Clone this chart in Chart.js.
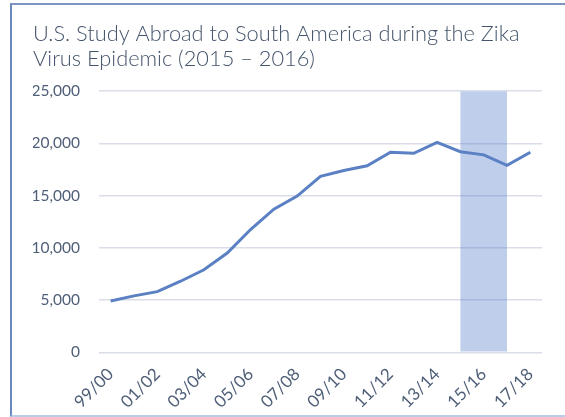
<!DOCTYPE html>
<html>
<head>
<meta charset="utf-8">
<script src="https://cdn.jsdelivr.net/npm/chart.js@4.4.1/dist/chart.umd.min.js"></script>
<style>
  html, body { margin: 0; padding: 0; background: #fff; }
  #frame {
    position: absolute; left: 10px; top: 3px; width: 580px; height: 410px;
    border-top: 2px solid #7d95c3; border-left: 2px solid #6d89bb; border-bottom: 2px solid #b9cbe6;
  }
  #wrap { position: absolute; left: 0; top: 0; width: 565px; height: 417px; }
</style>
</head>
<body>
<div id="frame"></div>
<div id="wrap"><canvas id="chart" width="565" height="417"></canvas></div>
<script>
const years = ['99/00', '00/01', '01/02', '02/03', '03/04', '04/05', '05/06', '06/07', '07/08', '08/09',
  '09/10', '10/11', '11/12', '12/13', '13/14', '14/15', '15/16', '16/17', '17/18'];
const students = [4900, 5400, 5800, 6800, 7900, 9500, 11750, 13700, 14950, 16850,
  17400, 17850, 19150, 19050, 20100, 19200, 18900, 17900, 19150];
// shaded band marking the Zika epidemic year
const zikaBand = [null, null, null, null, null, null, null, null, null, null,
  null, null, null, null, null, null, 25000, null, null];
const yTicks = [0, 5000, 10000, 15000, 20000, 25000];

const textColor = '#4f5f78';
const font = 'Lato, "Open Sans", sans-serif';

new Chart(document.getElementById('chart'), {
  data: {
    labels: years,
    datasets: [
      {
        type: 'line',
        label: 'Students',
        data: students,
        borderColor: '#5b80c3',
        borderWidth: 3,
        pointRadius: 0,
        tension: 0,
        order: 0
      },
      {
        type: 'bar',
        label: 'Zika epidemic',
        data: zikaBand,
        backgroundColor: 'rgba(68, 114, 196, 0.34)',
        barPercentage: 2,
        categoryPercentage: 1,
        order: 1
      }
    ]
  },
  options: {
    responsive: false,
    animation: false,
    layout: { padding: { left: 33, right: 23, top: 0, bottom: 1 } },
    plugins: {
      legend: { display: false },
      tooltip: { enabled: false },
      title: {
        display: true,
        text: ['U.S. Study Abroad to South America during the Zika', 'Virus Epidemic (2015 \u2013 2016)'],
        align: 'start',
        color: '#44546a',
        font: { family: font, size: 21.8, weight: 300, lineHeight: 1.15 },
        padding: { top: 21, bottom: 20 }
      }
    },
    scales: {
      x: {
        type: 'category',
        offset: true,
        grid: { display: false },
        border: { display: false },
        ticks: {
          autoSkip: false,
          minRotation: 45,
          maxRotation: 45,
          color: textColor,
          font: { family: font, size: 17 },
          padding: 4,
          callback: (val, i) => (i % 2 === 0 ? years[i] : '')
        }
      },
      y: {
        min: 0,
        max: 25000,
        afterBuildTicks: (scale) => { scale.ticks = yTicks.map(v => ({ value: v })); },
        afterFit: (scale) => { scale.width = 66; },
        grid: { color: '#d9dee8', lineWidth: 1.5, drawTicks: false },
        border: { display: false },
        ticks: {
          color: textColor,
          font: { family: font, size: 15.5 },
          padding: 19,
          callback: (v) => v.toLocaleString('en-US')
        }
      }
    }
  }
});
</script>
</body>
</html>
